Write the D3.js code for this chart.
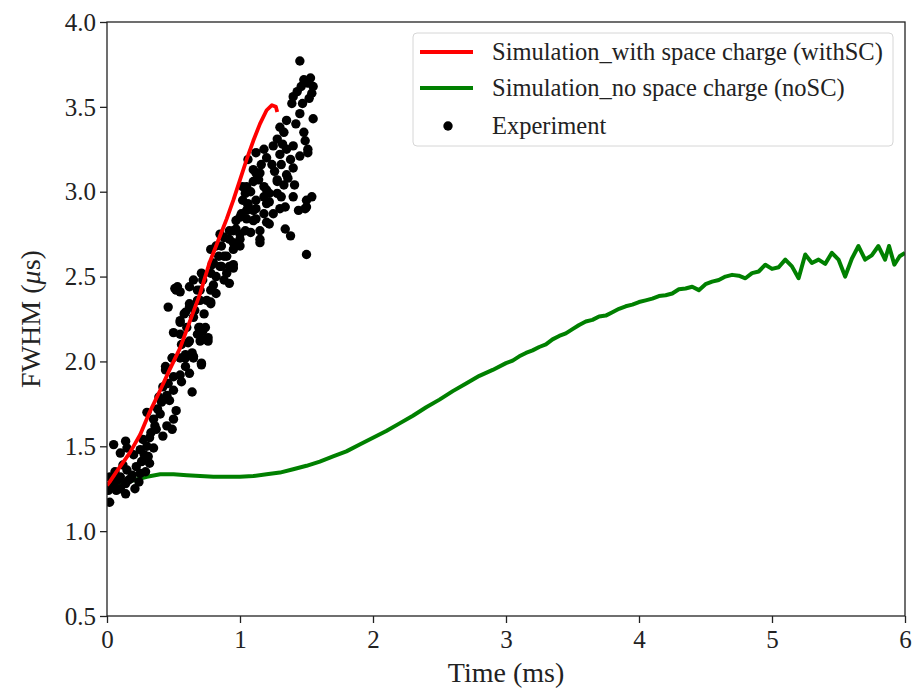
<!DOCTYPE html>
<html>
<head>
<meta charset="utf-8">
<script src="https://cdn.jsdelivr.net/npm/d3@7"></script>
<style>
  body { margin: 0; background: #fff; }
  svg text { font-family: "Liberation Serif", "Times New Roman", serif; fill: #222; }
</style>
</head>
<body>
<script>
// chart values
var xTicks = [0, 1, 2, 3, 4, 5, 6];
var yTicks = [0.5, 1.0, 1.5, 2.0, 2.5, 3.0, 3.5, 4.0];
var legendLabels = ["Simulation_with space charge (withSC)", "Simulation_no space charge (noSC)", "Experiment"];

// simulation with space charge [time ms, fwhm us]
var withSC = [[0, 1.27], [0.02, 1.29], [0.08, 1.36], [0.17, 1.46], [0.25, 1.57], [0.32, 1.70], [0.40, 1.83],
  [0.47, 1.95], [0.55, 2.08], [0.62, 2.23], [0.70, 2.40], [0.77, 2.58], [0.84, 2.72], [0.90, 2.84],
  [0.95, 2.95], [1.00, 3.07], [1.05, 3.19], [1.10, 3.30], [1.15, 3.40], [1.20, 3.48], [1.24, 3.51],
  [1.27, 3.50], [1.28, 3.47]];

// simulation without space charge
var noSC = [[0.0, 1.265], [0.1, 1.28], [0.2, 1.30], [0.3, 1.32], [0.4, 1.335], [0.5, 1.335], [0.6, 1.33],
  [0.7, 1.325], [0.8, 1.32], [0.9, 1.32], [1.0, 1.32], [1.1, 1.325], [1.2, 1.335], [1.3, 1.345],
  [1.4, 1.365], [1.5, 1.385], [1.6, 1.41], [1.7, 1.44], [1.8, 1.47], [1.9, 1.51], [2.0, 1.55],
  [2.1, 1.59], [2.2, 1.635], [2.3, 1.68], [2.4, 1.73], [2.5, 1.775], [2.6, 1.825], [2.7, 1.87],
  [2.8, 1.915], [2.9, 1.95], [3.0, 1.99], [3.05, 2.005], [3.1, 2.03], [3.15, 2.05], [3.2, 2.065],
  [3.25, 2.085], [3.3, 2.10], [3.35, 2.13], [3.4, 2.15], [3.45, 2.165], [3.5, 2.19], [3.55, 2.215],
  [3.6, 2.235], [3.65, 2.245], [3.7, 2.265], [3.75, 2.27], [3.8, 2.29], [3.85, 2.31], [3.9, 2.325],
  [3.95, 2.335], [4.0, 2.35], [4.05, 2.36], [4.1, 2.37], [4.15, 2.385], [4.2, 2.39], [4.25, 2.40],
  [4.3, 2.425], [4.35, 2.43], [4.4, 2.44], [4.45, 2.42], [4.5, 2.455], [4.55, 2.47], [4.6, 2.48],
  [4.65, 2.50], [4.7, 2.51], [4.75, 2.505], [4.8, 2.49], [4.85, 2.52], [4.9, 2.53], [4.95, 2.57],
  [5.0, 2.545], [5.05, 2.555], [5.1, 2.60], [5.15, 2.56], [5.2, 2.49], [5.25, 2.63], [5.3, 2.58],
  [5.35, 2.60], [5.4, 2.575], [5.45, 2.64], [5.5, 2.60], [5.55, 2.50], [5.6, 2.605], [5.65, 2.68],
  [5.7, 2.60], [5.75, 2.625], [5.8, 2.68], [5.85, 2.60], [5.88, 2.68], [5.92, 2.57], [5.96, 2.62],
  [6.0, 2.64]];

// measured points
var experiment = [[1.45, 3.77], [1.48, 3.66], [1.53, 3.67], [1.51, 3.64], [1.46, 3.62], [1.55, 3.62], [1.43, 3.59],
  [1.54, 3.58], [1.40, 3.56], [1.39, 3.52], [1.45, 3.46], [1.55, 3.43], [1.35, 3.42], [1.30, 3.38],
  [1.48, 3.35], [1.33, 3.35], [1.28, 3.31], [1.49, 3.30], [1.40, 3.27], [1.25, 3.27], [1.18, 3.25],
  [1.51, 3.25], [1.35, 3.25], [1.12, 3.23], [1.30, 3.22], [1.20, 3.20], [1.06, 3.19], [1.38, 3.19],
  [1.45, 3.21], [1.24, 3.16], [1.31, 3.16], [1.40, 3.14], [1.10, 3.13], [1.15, 3.11],
  [1.50, 2.63], [1.54, 2.97], [1.50, 2.95], [1.44, 2.89], [1.49, 2.90], [1.38, 2.74], [1.34, 2.78],
  [1.40, 2.97], [1.41, 3.04], [1.51, 3.23], [1.36, 3.08], [1.33, 3.04], [1.28, 3.06], [1.31, 2.97],
  [1.34, 2.91], [1.22, 2.99], [1.20, 2.93], [1.25, 2.87], [1.20, 2.82], [1.15, 2.72], [1.15, 2.77],
  [1.10, 2.83], [1.10, 2.89], [1.12, 2.95], [1.18, 3.03], [1.14, 3.11], [1.10, 3.06], [1.05, 3.03],
  [1.04, 2.99], [1.06, 2.92], [1.01, 2.87], [1.05, 2.84], [0.97, 2.83], [1.04, 2.77], [1.00, 2.72],
  [0.95, 2.77], [0.92, 2.72], [0.95, 2.66], [0.90, 2.62], [0.86, 2.68], [0.85, 2.75], [0.92, 2.56],
  [0.86, 2.56], [0.82, 2.50], [0.78, 2.52], [0.80, 2.58], [0.72, 2.48], [0.78, 2.42], [0.75, 2.36],
  [0.70, 2.42], [0.70, 2.36], [0.78, 2.34], [0.65, 2.48], [0.68, 2.36], [0.62, 2.44], [0.65, 2.26],
  [0.62, 2.32], [0.58, 2.28], [0.55, 2.24], [0.52, 2.42], [0.53, 2.44], [0.46, 2.32], [0.50, 2.17],
  [0.55, 2.16], [0.74, 2.13], [0.72, 2.18], [0.70, 2.20], [0.68, 2.16],
  [0.51, 2.43], [0.55, 2.41], [0.55, 2.23], [0.59, 2.29], [0.62, 2.34], [0.71, 2.52], [0.68, 2.42],
  [0.78, 2.35], [0.82, 2.40], [0.79, 2.57], [0.85, 2.56], [0.90, 2.52], [0.95, 2.55], [0.88, 2.48],
  [0.92, 2.46], [0.74, 2.20], [0.76, 2.14], [0.69, 2.20], [0.71, 2.13], [0.62, 2.12], [0.60, 2.20],
  [0.65, 2.03], [0.71, 1.99], [0.59, 2.02], [0.49, 2.02], [0.44, 1.97],
  [1.08, 3.00], [1.20, 3.01], [1.28, 2.99], [1.50, 2.91], [1.22, 2.94], [1.30, 2.90], [1.12, 2.90],
  [1.05, 2.89], [1.00, 2.85], [1.12, 2.84], [1.18, 2.87], [1.22, 2.81], [1.15, 2.70], [1.08, 2.76],
  [1.00, 2.75], [0.92, 2.77], [0.88, 2.73], [0.95, 2.70], [0.82, 2.68], [0.78, 2.66], [1.00, 2.68],
  [0.88, 2.62], [0.95, 2.57], [1.06, 2.93], [1.14, 3.07], [1.28, 3.07], [1.35, 3.10], [1.12, 3.11],
  [1.02, 3.03], [1.18, 2.97],
  [0.61, 2.11], [0.70, 2.12], [0.76, 2.12], [0.64, 2.05], [0.59, 2.04], [0.55, 2.02], [0.65, 2.02],
  [0.49, 2.02], [0.71, 1.98], [0.44, 1.95], [0.59, 1.97], [0.62, 1.93], [0.55, 1.92], [0.50, 1.91],
  [0.56, 1.88], [0.64, 1.82], [0.46, 1.87], [0.42, 1.85], [0.50, 1.83], [0.45, 1.80], [0.39, 1.79],
  [0.47, 1.77], [0.52, 1.71], [0.30, 1.70], [0.40, 1.69], [0.35, 1.66], [0.50, 1.66], [0.45, 1.62],
  [0.37, 1.60], [0.49, 1.60], [0.42, 1.56], [0.32, 1.55], [0.27, 1.54], [0.30, 1.50], [0.35, 1.49],
  [0.25, 1.48], [0.31, 1.44], [0.05, 1.51], [0.14, 1.53], [0.15, 1.49], [0.10, 1.46], [0.20, 1.45],
  [0.26, 1.41], [0.32, 1.40], [0.22, 1.38], [0.15, 1.36], [0.06, 1.35], [0.02, 1.32], [0.10, 1.32],
  [0.19, 1.33], [0.25, 1.34], [0.29, 1.35], [0.05, 1.28], [0.14, 1.28], [0.21, 1.25], [0.07, 1.24],
  [0.14, 1.22], [0.02, 1.17], [0.16, 1.30], [0.01, 1.24], [0.10, 1.25],
  [0.38, 1.72], [0.41, 1.76], [0.36, 1.62], [0.33, 1.58], [0.28, 1.45], [0.12, 1.39], [0.18, 1.31],
  [0.24, 1.29], [0.08, 1.30], [0.04, 1.26], [0.56, 2.10], [0.66, 2.30], [0.73, 2.28], [0.80, 2.45],
  [0.84, 2.62], [0.97, 2.78], [1.02, 2.95], [1.16, 3.16], [1.26, 3.12], [1.32, 3.28], [1.42, 3.40],
  [1.47, 3.52], [1.52, 3.55]];

var w = 918;
var h = 692;
var margin = {left: 107, right: 13, top: 22, bottom: 76};
var serif = "Liberation Serif";

var svg = d3.select("body").append("svg")
    .attr("width", w)
    .attr("height", h);

var x = d3.scaleLinear().domain([0, 6]).range([margin.left, w - margin.right]);
var y = d3.scaleLinear().domain([0.5, 4.0]).range([h - margin.bottom, margin.top]);

// clip so the lines stay in the frame
svg.append("clipPath").attr("id", "plotclip")
  .append("rect")
    .attr("x", margin.left).attr("y", margin.top)
    .attr("width", x(6) - x(0)).attr("height", y(0.5) - y(4.0));

var plot = svg.append("g").attr("clip-path", "url(#plotclip)");

var line = d3.line()
    .x(function (d) { return x(d[0]); })
    .y(function (d) { return y(d[1]); });

plot.append("path")
    .datum(noSC)
    .attr("d", line)
    .attr("fill", "none")
    .attr("stroke", "#008000")
    .attr("stroke-width", 4)
    .attr("stroke-linejoin", "round");

plot.append("g")
  .selectAll("circle")
  .data(experiment)
  .enter().append("circle")
    .attr("cx", function (d) { return x(d[0]); })
    .attr("cy", function (d) { return y(d[1]); })
    .attr("r", 4.7)
    .attr("fill", "#000");

plot.append("path")
    .datum(withSC)
    .attr("d", line)
    .attr("fill", "none")
    .attr("stroke", "#ff0000")
    .attr("stroke-width", 3.8)
    .attr("stroke-linejoin", "round");

// axes
var xAxis = svg.append("g")
    .attr("transform", "translate(0," + y(0.5) + ")")
    .call(d3.axisBottom(x).tickValues(xTicks).tickFormat(d3.format("d")).tickSize(7).tickSizeOuter(0));
var yAxis = svg.append("g")
    .attr("transform", "translate(" + x(0) + ",0)")
    .call(d3.axisLeft(y).tickValues(yTicks).tickFormat(d3.format(".1f")).tickSize(7).tickSizeOuter(0));

[xAxis, yAxis].forEach(function (a) {
    a.attr("font-family", serif).attr("font-size", 25);
    a.select(".domain").remove();
    a.selectAll("line").attr("stroke", "#222").attr("stroke-width", 1.3);
    a.selectAll("text").attr("fill", "#222");
});
xAxis.selectAll("text").attr("dy", null).attr("y", 32);
yAxis.selectAll("text").attr("x", -11).attr("dy", "0.33em");

// frame
svg.append("rect")
    .attr("x", x(0)).attr("y", y(4.0))
    .attr("width", x(6) - x(0)).attr("height", y(0.5) - y(4.0))
    .attr("fill", "none")
    .attr("stroke", "#222")
    .attr("stroke-width", 1.3);

// axis labels
svg.append("text")
    .attr("x", (x(0) + x(6)) / 2)
    .attr("y", 682)
    .attr("text-anchor", "middle")
    .attr("font-family", serif)
    .attr("font-size", 28)
    .text("Time (ms)");

var ylab = svg.append("text")
    .attr("transform", "translate(40," + (y(0.5) + y(4.0)) / 2 + ") rotate(-90)")
    .attr("text-anchor", "middle")
    .attr("font-family", serif)
    .attr("font-size", 28);
ylab.append("tspan").text("FWHM (");
ylab.append("tspan").attr("font-style", "italic").text("\u03bc");
ylab.append("tspan").text("s)");

// legend
var legend = svg.append("g").attr("id", "legend").attr("transform", "translate(413,33)");
legend.append("rect")
    .attr("width", 480).attr("height", 113)
    .attr("rx", 4)
    .attr("fill", "#fff").attr("fill-opacity", 0.8)
    .attr("stroke", "#d6d6d6").attr("stroke-width", 1);

var legendRowY = [19, 55, 93];
legendLabels.forEach(function (lab, i) {
    var g = legend.append("g").attr("transform", "translate(0," + legendRowY[i] + ")");
    if (i < 2) {
        g.append("line")
            .attr("x1", 7).attr("x2", 60)
            .attr("stroke", i === 0 ? "#ff0000" : "#008000")
            .attr("stroke-width", 3.8);
    } else {
        g.append("circle").attr("cx", 35).attr("cy", 0).attr("r", 4.7).attr("fill", "#000");
    }
    g.append("text")
        .attr("x", 79)
        .attr("dy", "0.33em")
        .attr("font-family", serif)
        .attr("font-size", 24.5)
        .text(lab);
});
</script>
</body>
</html>
